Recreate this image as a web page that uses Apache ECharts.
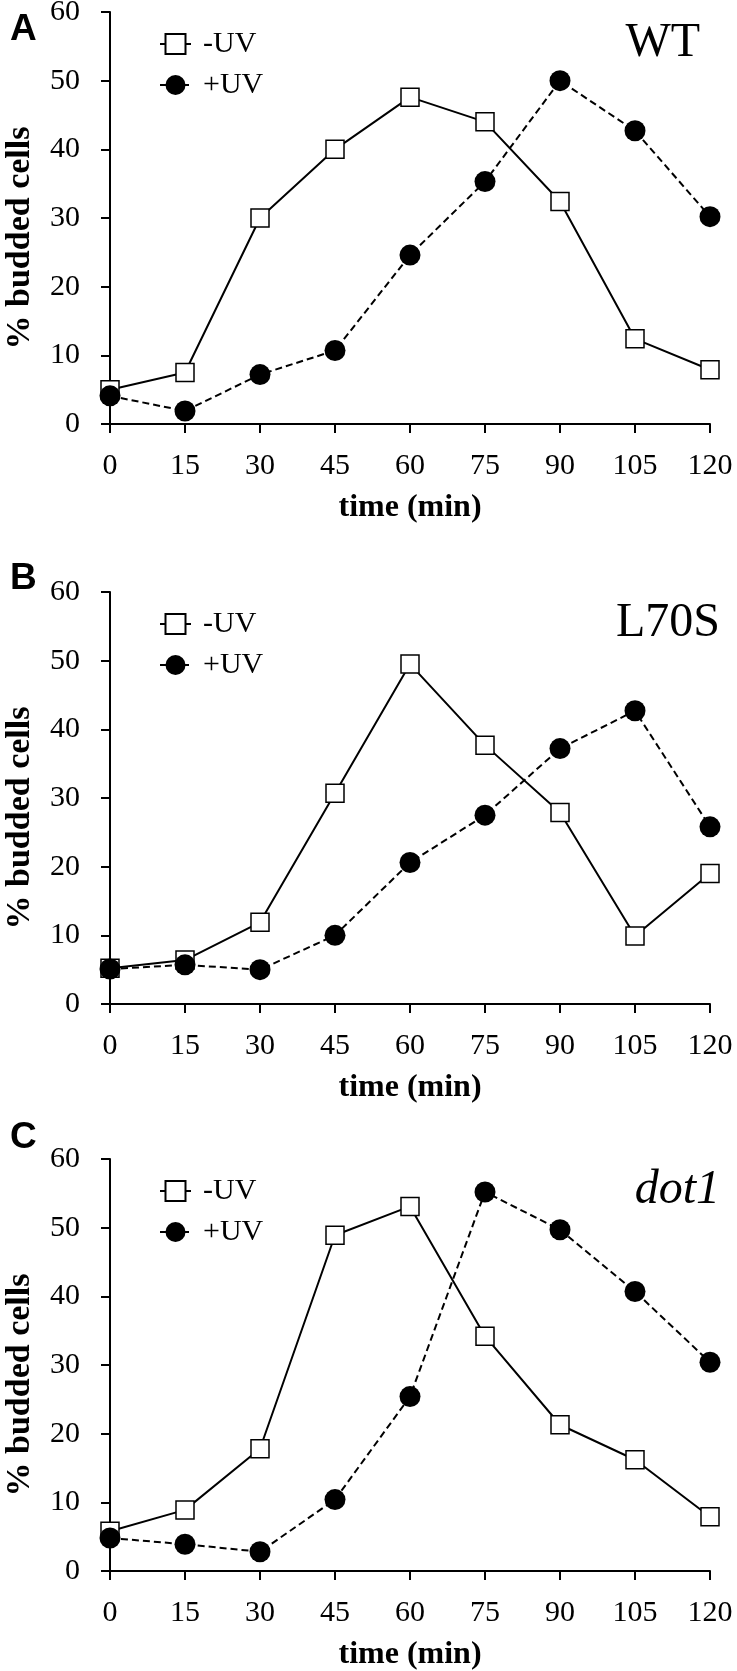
<!DOCTYPE html>
<html>
<head>
<meta charset="utf-8">
<script src="https://cdn.jsdelivr.net/npm/echarts@6/dist/echarts.min.js"></script>
<style>
html,body{margin:0;padding:0;background:#fff;}
#chart{width:737px;height:1671px;}
</style>
</head>
<body>
<div id="chart"></div>
<script>
// ---- data ----
const timeMin = [0, 15, 30, 45, 60, 75, 90, 105, 120];
const panelLetters = ['A', 'B', 'C'];
const strainNames = ['WT', 'L70S', 'dot1'];
const seriesNames = ['-UV', '+UV'];

const wtMinusUV   = [5.0, 7.5, 30.0, 40.0, 47.6, 44.0, 32.4, 12.4, 7.9];
const wtPlusUV    = [4.1, 1.9, 7.2, 10.7, 24.6, 35.3, 50.0, 42.7, 30.2];
const l70sMinusUV = [5.2, 6.4, 11.9, 30.7, 49.5, 37.7, 27.9, 9.9, 19.0];
const l70sPlusUV  = [5.1, 5.7, 5.0, 10.0, 20.6, 27.5, 37.2, 42.7, 25.8];
const dot1MinusUV = [5.8, 8.9, 17.8, 48.9, 53.1, 34.2, 21.3, 16.2, 7.9];
const dot1PlusUV  = [4.8, 3.9, 2.8, 10.4, 25.4, 55.2, 49.7, 40.7, 30.4];

const minusSets = [wtMinusUV, l70sMinusUV, dot1MinusUV];
const plusSets = [wtPlusUV, l70sPlusUV, dot1PlusUV];

// ---- layout ----
const plotTops = [12, 592, 1159];
const plotH = 412;
const plotLeft = 110, plotRight = 27;
const serifFont = 'Liberation Serif';

const grids = [], xAxes = [], yAxes = [], series = [], legends = [], titles = [];
const letterTops = [6, 555, 1114];
const strainRight = [32, 12, 12];

plotTops.forEach((top, k) => {
  grids.push({left: plotLeft, right: plotRight, top: top, height: plotH,
              containLabel: false, outerBoundsMode: 'none'});
  xAxes.push({
    type: 'value', gridIndex: k, min: 0, max: 120, interval: 15,
    name: 'time (min)', nameLocation: 'middle', nameGap: 68,
    nameTextStyle: {fontFamily: serifFont, fontWeight: 'bold', fontSize: 32, color: '#000'},
    axisLine: {show: true, lineStyle: {color: '#000', width: 2}},
    axisTick: {show: true, inside: false, length: 9, lineStyle: {color: '#000', width: 2}},
    axisLabel: {fontFamily: serifFont, fontSize: 30, color: '#000', margin: 27},
    splitLine: {show: false}
  });
  yAxes.push({
    type: 'value', gridIndex: k, min: 0, max: 60, interval: 10,
    name: '% budded cells', nameLocation: 'middle', nameGap: 73, nameRotate: 90,
    nameTextStyle: {fontFamily: serifFont, fontWeight: 'bold', fontSize: 34, color: '#000', padding: [0, 40, 0, 0]},
    axisLine: {show: true, lineStyle: {color: '#000', width: 2}},
    axisTick: {show: true, inside: false, length: 9, lineStyle: {color: '#000', width: 2}},
    axisLabel: {fontFamily: serifFont, fontSize: 30, color: '#000', margin: 30},
    splitLine: {show: false}
  });
  series.push({
    name: seriesNames[0], type: 'line', xAxisIndex: k, yAxisIndex: k,
    data: timeMin.map((t, i) => [t, minusSets[k][i]]),
    symbol: 'rect', symbolSize: 18,
    itemStyle: {color: '#fff', borderColor: '#000', borderWidth: 1.5},
    lineStyle: {color: '#000', width: 2, type: 'solid'},
    emphasis: {disabled: true}, z: 2
  });
  series.push({
    name: seriesNames[1], type: 'line', xAxisIndex: k, yAxisIndex: k,
    data: timeMin.map((t, i) => [t, plusSets[k][i]]),
    symbol: 'circle', symbolSize: 21,
    itemStyle: {color: '#000', borderColor: '#000', borderWidth: 0},
    lineStyle: {color: '#000', width: 2, type: [7, 4]},
    emphasis: {disabled: true}, z: 3
  });
  legends.push({
    orient: 'vertical', left: 154, top: top + 12,
    itemWidth: 31, itemHeight: 25, itemGap: 11,
    data: seriesNames,
    textStyle: {fontFamily: serifFont, fontSize: 30, color: '#000', padding: [0, 0, 0, 7]},
    selectedMode: false
  });
  titles.push({
    text: strainNames[k], right: strainRight[k], top: top + 2,
    textStyle: {fontFamily: serifFont, fontSize: 48, fontWeight: 'normal', fontStyle: k === 2 ? 'italic' : 'normal', color: '#000'}
  });
  titles.push({
    text: panelLetters[k], left: 5, top: letterTops[k],
    textStyle: {fontFamily: 'Liberation Sans', fontSize: 37, fontWeight: 'bold', color: '#000'}
  });
});

const chart = echarts.init(document.getElementById('chart'));
chart.setOption({
  backgroundColor: '#fff',
  animation: false,
  title: titles,
  legend: legends,
  grid: grids,
  xAxis: xAxes,
  yAxis: yAxes,
  series: series
});
</script>
</body>
</html>
